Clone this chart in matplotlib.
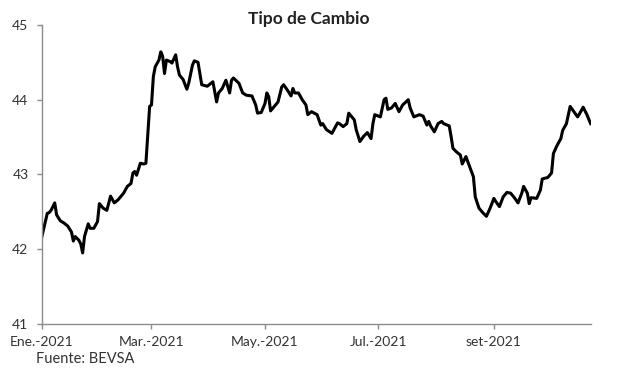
import numpy as np
import pandas as pd
import matplotlib
matplotlib.use("Agg")
import matplotlib.pyplot as plt
import matplotlib.dates as mdates

# datos (tipo de cambio, BEVSA)
fechas = [
    "2021-01-01", "2021-01-03", "2021-01-04", "2021-01-05", "2021-01-06", "2021-01-08",
    "2021-01-09", "2021-01-11", "2021-01-13", "2021-01-15", "2021-01-17", "2021-01-18",
    "2021-01-19", "2021-01-21", "2021-01-22", "2021-01-23", "2021-01-24", "2021-01-26",
    "2021-01-27", "2021-01-29", "2021-01-31", "2021-02-01", "2021-02-03", "2021-02-05",
    "2021-02-07", "2021-02-09", "2021-02-11", "2021-02-14", "2021-02-16", "2021-02-18",
    "2021-02-19", "2021-02-20", "2021-02-21", "2021-02-23", "2021-02-25", "2021-02-26",
    "2021-02-28", "2021-03-01", "2021-03-02", "2021-03-03", "2021-03-05", "2021-03-06",
    "2021-03-07", "2021-03-08", "2021-03-09", "2021-03-11", "2021-03-12", "2021-03-14",
    "2021-03-15", "2021-03-16", "2021-03-18", "2021-03-20", "2021-03-21", "2021-03-23",
    "2021-03-24", "2021-03-26", "2021-03-27", "2021-03-28", "2021-03-31", "2021-04-03",
    "2021-04-05", "2021-04-06", "2021-04-08", "2021-04-10", "2021-04-12", "2021-04-13",
    "2021-04-14", "2021-04-17", "2021-04-19", "2021-04-21", "2021-04-24", "2021-04-26",
    "2021-04-27", "2021-04-29", "2021-05-01", "2021-05-02", "2021-05-03", "2021-05-04",
    "2021-05-06", "2021-05-08", "2021-05-10", "2021-05-11", "2021-05-13", "2021-05-15",
    "2021-05-16", "2021-05-17", "2021-05-19", "2021-05-21", "2021-05-23", "2021-05-24",
    "2021-05-26", "2021-05-29", "2021-05-31", "2021-06-01", "2021-06-03", "2021-06-06",
    "2021-06-09", "2021-06-10", "2021-06-12", "2021-06-14", "2021-06-15", "2021-06-18",
    "2021-06-19", "2021-06-21", "2021-06-23", "2021-06-25", "2021-06-27", "2021-06-28",
    "2021-06-29", "2021-07-02", "2021-07-04", "2021-07-05", "2021-07-06", "2021-07-08",
    "2021-07-10", "2021-07-12", "2021-07-14", "2021-07-17", "2021-07-18", "2021-07-20",
    "2021-07-23", "2021-07-25", "2021-07-27", "2021-07-28", "2021-07-29", "2021-07-31",
    "2021-08-02", "2021-08-04", "2021-08-05", "2021-08-08", "2021-08-09", "2021-08-10",
    "2021-08-12", "2021-08-14", "2021-08-15", "2021-08-17", "2021-08-18", "2021-08-21",
    "2021-08-22", "2021-08-24", "2021-08-26", "2021-08-28", "2021-08-30", "2021-09-01",
    "2021-09-02", "2021-09-04", "2021-09-06", "2021-09-08", "2021-09-10", "2021-09-12",
    "2021-09-14", "2021-09-16", "2021-09-17", "2021-09-19", "2021-09-20", "2021-09-21",
    "2021-09-24", "2021-09-26", "2021-09-27", "2021-09-30", "2021-10-02", "2021-10-03",
    "2021-10-05", "2021-10-07", "2021-10-08", "2021-10-10", "2021-10-12", "2021-10-14",
    "2021-10-16", "2021-10-17", "2021-10-19", "2021-10-21", "2021-10-23",
]
tipo_cambio = [
    42.16, 42.37, 42.48, 42.49, 42.52, 42.62,
    42.46, 42.38, 42.35, 42.31, 42.23, 42.11,
    42.17, 42.12, 42.07, 41.95, 42.17, 42.34,
    42.28, 42.28, 42.37, 42.61, 42.55, 42.52,
    42.71, 42.62, 42.66, 42.75, 42.84, 42.88,
    43.02, 43.04, 42.99, 43.15, 43.14, 43.15,
    43.91, 43.93, 44.31, 44.44, 44.53, 44.64,
    44.58, 44.35, 44.53, 44.51, 44.49, 44.60,
    44.44, 44.33, 44.27, 44.14, 44.22, 44.46,
    44.52, 44.50, 44.35, 44.20, 44.18, 44.24,
    43.97, 44.09, 44.15, 44.26, 44.09, 44.26,
    44.29, 44.22, 44.09, 44.06, 44.05, 43.93,
    43.82, 43.83, 43.95, 44.09, 44.04, 43.85,
    43.91, 43.97, 44.17, 44.20, 44.13, 44.05,
    44.15, 44.09, 44.09, 44.00, 43.93, 43.80,
    43.84, 43.80, 43.66, 43.68, 43.60, 43.55,
    43.69, 43.68, 43.64, 43.68, 43.82, 43.73,
    43.60, 43.44, 43.51, 43.56, 43.48, 43.68,
    43.80, 43.77, 44.00, 44.02, 43.87, 43.89,
    43.95, 43.84, 43.93, 44.00, 43.89, 43.77,
    43.80, 43.78, 43.66, 43.71, 43.65, 43.57,
    43.68, 43.71, 43.68, 43.65, 43.51, 43.35,
    43.30, 43.26, 43.14, 43.24, 43.17, 42.97,
    42.70, 42.55, 42.49, 42.44, 42.55, 42.68,
    42.64, 42.57, 42.70, 42.76, 42.75, 42.69,
    42.62, 42.75, 42.84, 42.75, 42.61, 42.69,
    42.68, 42.79, 42.94, 42.96, 43.02, 43.28,
    43.39, 43.48, 43.59, 43.68, 43.91, 43.84,
    43.77, 43.81, 43.90, 43.80, 43.68,
]
ticks_x = ["2021-01-01", "2021-03-01", "2021-05-01", "2021-07-01", "2021-09-01"]
etiquetas_x = ["Ene.-2021", "Mar.-2021", "May.-2021", "Jul.-2021", "set-2021"]
ticks_y = [41, 42, 43, 44, 45]

plt.rcParams['font.family'] = ['Lato', 'DejaVu Sans']

fechas = pd.to_datetime(fechas)

fig = plt.figure(figsize=(6.17, 3.72), dpi=100)
ax = fig.add_axes([0.0676, 0.129, 0.958 - 0.0676, 0.933 - 0.129])

ax.plot(fechas, tipo_cambio, color='black', lw=2.2, solid_joinstyle='round')

ax.set_xlim(pd.Timestamp("2021-01-01"), pd.Timestamp("2021-10-23 06:00"))
ax.set_ylim(41, 45)
ax.set_yticks(ticks_y)
ax.set_xticks(pd.to_datetime(ticks_x))
ax.set_xticklabels(etiquetas_x)

gris = '#8c8c8c'
for s in ['top', 'right']:
    ax.spines[s].set_visible(False)
for s in ['left', 'bottom']:
    ax.spines[s].set_color(gris)
    ax.spines[s].set_linewidth(1.0)
ax.tick_params(axis='both', colors=gris, length=3.5, width=1.0,
               labelcolor='#333333', labelsize=10)
ax.tick_params(axis='y', pad=6)
ax.tick_params(axis='x', pad=5)

fig.text(0.5, 0.948, 'Tipo de Cambio', ha='center', va='center',
         fontsize=12.5, fontweight='bold', color='#222222')
fig.text(0.058, 0.034, 'Fuente: BEVSA', ha='left', va='center',
         fontsize=10.5, color='#333333')

fig.savefig('out.png', dpi=100)
